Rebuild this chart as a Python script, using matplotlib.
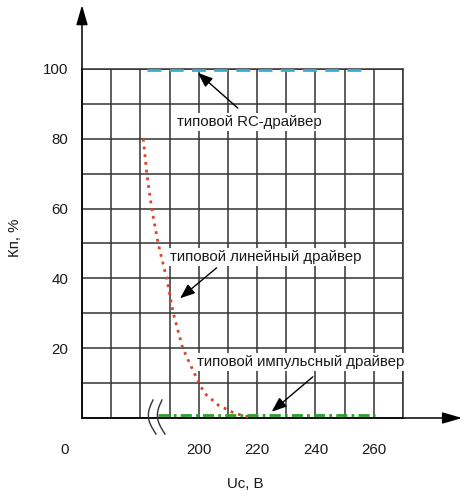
import numpy as np
import matplotlib
matplotlib.use("Agg")
import matplotlib.pyplot as plt

plt.rcParams['font.family'] = ['Liberation Sans', 'DejaVu Sans']

# --- data ---
x_ticks = [200, 220, 240, 260]
y_ticks = [20, 40, 60, 80, 100]

rc_x = [182.2, 256.1]
rc_y = [99.6, 99.6]

lin_x = [181.0, 182.2, 183.9, 186.1, 189.0, 191.3, 194.5, 200.1, 202.1, 206.7, 212.4, 218.7]
lin_y = [80, 70, 60, 50, 40, 30, 20, 10, 7, 3.7, 1.3, 0]

imp_x = [186.0, 260.3]
imp_y = [1.0, 1.0]

labels = ["типовой RC-драйвер", "типовой линейный драйвер", "типовой импульсный драйвер"]
label_xy = [(217.5, 84.9), (223.0, 46.2), (235.0, 16.1)]
arrow_tail = [(213.4, 88.8), (206.1, 43.0), (239.1, 11.8)]
arrow_head = [(199.7, 98.9), (193.6, 34.3), (225.0, 1.8)]

FS = 10.8
W, H = 467, 497
fig = plt.figure(figsize=(W / 100, H / 100), dpi=100)
ax = fig.add_axes([82 / W, 1 - 418 / H, (403 - 82) / W, (418 - 69) / H])
ax.set_xlim(160, 270)
ax.set_ylim(0, 100)

gc = '#333333'
tc = '#1a1a1a'
ax.set_xticks(np.arange(160, 271, 10))
ax.set_xticklabels([str(v) if v in x_ticks else '' for v in range(160, 271, 10)])
ax.set_yticks(np.arange(0, 101, 10))
ax.set_yticklabels([str(v) if v in y_ticks else '' for v in range(0, 101, 10)])
ax.tick_params(length=0, labelsize=FS, colors=tc)
ax.tick_params(axis='x', pad=18)
ax.tick_params(axis='y', pad=10)
ax.grid(True, color=gc, linewidth=1.1)
for s in ax.spines.values():
    s.set_color(gc)
    s.set_linewidth(1.1)

# axis arrows
ax.annotate('', xy=(0, 1.183), xytext=(0, 0), xycoords='axes fraction',
            arrowprops=dict(arrowstyle='-|>,head_length=1.2,head_width=0.35', color='black', lw=1.1,
                            shrinkA=0, shrinkB=0), annotation_clip=False)
ax.annotate('', xy=(1.184, 0), xytext=(0, 0), xycoords='axes fraction',
            arrowprops=dict(arrowstyle='-|>,head_length=1.2,head_width=0.35', color='black', lw=1.1,
                            shrinkA=0, shrinkB=0), annotation_clip=False)

# origin label
fig.text(65 / W, 1 - 450 / H, '0', ha='center', va='center', fontsize=FS, color=tc)

# axis labels
fig.text(15 / W, 1 - 237.5 / H, 'Кп, %', rotation=90, ha='center', va='center', fontsize=FS, color=tc)
fig.text(245 / W, 1 - 484 / H, 'Uc, В', ha='center', va='center', fontsize=FS, color=tc)

# series
ax.plot(rc_x, rc_y, color='#3aaed0', lw=2.0, dashes=(5, 3), clip_on=False, zorder=3)
ax.plot(lin_x, lin_y, color='#d8452a', lw=2.0, dashes=(1, 1.8), clip_on=False, zorder=3)
ax.plot(imp_x, imp_y, color='#2aa02a', lw=2.0, dashes=(4, 1.5, 1, 1.5), clip_on=False, zorder=3)

# annotations
for txt, (tx, ty), (ax0, ay0), (hx, hy) in zip(labels, label_xy, arrow_tail, arrow_head):
    ax.text(tx, ty, txt, ha='center', va='center', fontsize=FS, color=tc, zorder=4,
            bbox=dict(facecolor='white', edgecolor='none', pad=1.5))
    ax.annotate('', xy=(hx, hy), xytext=(ax0, ay0),
                arrowprops=dict(arrowstyle='-|>,head_length=0.9,head_width=0.35', color='black', lw=1.0,
                                shrinkA=0, shrinkB=0), zorder=5)

# axis break symbol (decoration), drawn in pixel offsets around a data anchor
t = np.linspace(0, 1, 40)
for dx in (0, 9):
    px = dx + 5 - 6 * np.sin(np.pi * t) + 3 * t
    py = 18 - 34 * t
    xs = 182.6 + px / 2.918
    ys = 0 + py / 3.49
    ax.plot(xs, ys, color='#333333', lw=1.0, clip_on=False, zorder=6)

fig.savefig('out.png', dpi=100)
